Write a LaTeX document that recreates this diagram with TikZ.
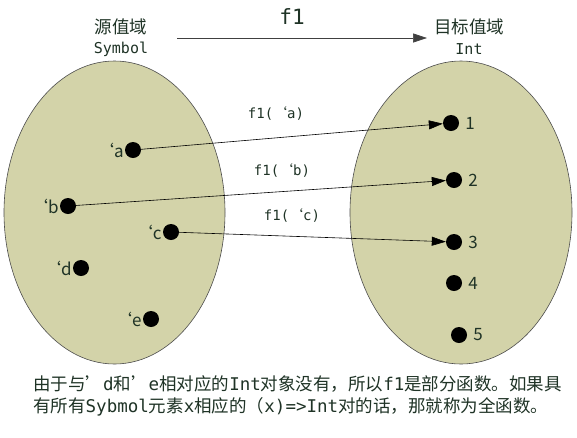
\documentclass[tikz,border=0pt]{standalone}
\usepackage{fontspec}
\setmainfont{Noto Sans CJK SC}
\newfontfamily\mono{DejaVu Sans Mono}
\usetikzlibrary{arrows.meta,shapes.geometric}
\definecolor{fillc}{HTML}{D3D3A9}
\definecolor{txtc}{HTML}{1F3326}
\tikzset{
  setbox/.style={ellipse, draw=black!70, line width=0.6pt, fill=fillc, inner sep=0pt},
  dot/.style={circle, fill=black, minimum size=16pt, inner sep=0pt},
  lbl/.style={text=txtc, inner sep=1pt, font=\fontsize{17}{17}\selectfont},
  flbl/.style={text=txtc, inner sep=0pt, font=\mono\fontsize{14}{14}\selectfont},
  conn/.style={draw=black, line width=0.6pt, -{Triangle[length=14pt,width=9pt]}},
  head/.style={text=txtc, inner sep=0pt, font=\fontsize{17.5}{17.5}\selectfont},
  sub/.style={text=txtc, inner sep=0pt, font=\mono\fontsize{15}{15}\selectfont},
  note/.style={text=txtc, inner sep=0pt, anchor=west, font=\fontsize{17.5}{17.5}\selectfont}
}
\begin{document}
\begin{tikzpicture}[x=1pt,y=-1pt]
\useasboundingbox (0,0) rectangle (577,437);
\fill[white] (0,0) rectangle (577,437);

% domains
\node[setbox, minimum width=221pt, minimum height=303pt] (src) at (114.5,212.5) {};
\node[setbox, minimum width=222pt, minimum height=303pt] (dst) at (461,212.5) {};

% headings
\node[head] (srcT) at (121,27) {源值域};
\node[sub] (srcS) at (121,49) {Symbol};
\node[head] (dstT) at (469,27) {目标值域};
\node[sub] (dstS) at (469,49) {Int};
\node[text=txtc, inner sep=0pt, font=\mono\fontsize{21}{21}\selectfont] (fT) at (292,17) {f1};
\coordinate (aS) at (177,38);
\coordinate (aE) at (427,38);
\draw[conn, draw=black!75] (aS) -- (aE);

% source elements
\node[dot] (a) at (133,150) {};
\node[dot] (b) at (68,206) {};
\node[dot] (c) at (171,232) {};
\node[dot] (d) at (81,268) {};
\node[dot] (e) at (151,319) {};
\node[lbl, anchor=east] (la) at (a.west) {‘a};
\node[lbl, anchor=east] (lb) at (b.west) {‘b};
\node[lbl, anchor=east] (lc) at (c.west) {‘c};
\node[lbl, anchor=east] (ld) at (d.west) {‘d};
\node[lbl, anchor=east] (le) at (e.west) {‘e};

% target elements
\node[dot] (n1) at (451,123) {};
\node[dot] (n2) at (454,180) {};
\node[dot] (n3) at (454,242) {};
\node[dot] (n4) at (454,283) {};
\node[dot] (n5) at (459,335) {};
\node[lbl, anchor=west, xshift=5pt] (l1) at (n1.east) {1};
\node[lbl, anchor=west, xshift=5pt] (l2) at (n2.east) {2};
\node[lbl, anchor=west, xshift=5pt] (l3) at (n3.east) {3};
\node[lbl, anchor=west, xshift=5pt] (l4) at (n4.east) {4};
\node[lbl, anchor=west, xshift=5pt] (l5) at (n5.east) {5};

% mappings
\draw[conn] (a) -- (n1);
\draw[conn] (b) -- (n2);
\draw[conn] (c) -- (n3);
\node[flbl] (fa) at (276,113) {f1(\rmfamily‘\mono a)};
\node[flbl] (fb) at (282,170) {f1(\rmfamily‘\mono b)};
\node[flbl] (fc) at (292,215) {f1(\rmfamily‘\mono c)};

% note
\node[note] (note1) at (33,384) {由于与’{\mono d}和’{\mono e}相对应的{\mono Int}对象没有，所以{\mono f1}是部分函数。如果具};
\node[note] (note2) at (33,407) {有所有{\mono Sybmol}元素{\mono x}相应的（{\mono x)=>Int}对的话，那就称为全函数。};
\end{tikzpicture}
\end{document}
